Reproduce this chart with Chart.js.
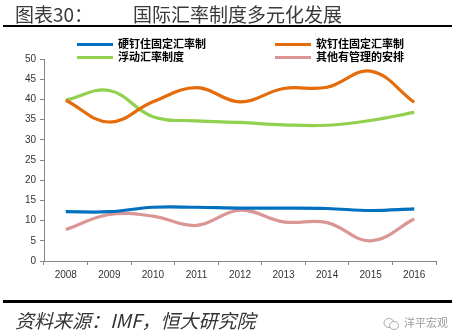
<!DOCTYPE html>
<html>
<head>
<meta charset="utf-8">
<script src="https://cdn.jsdelivr.net/npm/chart.js@4"></script>
<style>
  html, body { margin: 0; padding: 0; background: #fff; }
  #wrap { position: relative; width: 455px; height: 335px; overflow: hidden; font-family: "Noto Sans CJK SC", sans-serif; }
  #chart { position: absolute; left: 0; top: 0; }
  .title { position: absolute; top: 2px; font-size: 19px; color: #3a3a3a; line-height: 24px; white-space: nowrap; }
  .rule { position: absolute; left: 3px; width: 449px; background: #000; }
  .legend { position: absolute; font-size: 11px; font-weight: bold; color: #000; line-height: 13px; white-space: nowrap; }
  .legend i { display: inline-block; width: 36px; height: 3px; vertical-align: middle; margin-right: 5px; position: relative; top: -1px; }
  .source { position: absolute; left: 15px; top: 306px; font-size: 19px; font-style: italic; color: #333; white-space: nowrap; }
  .mark { position: absolute; left: 383px; top: 314px; font-size: 11px; color: #9a9a9a; white-space: nowrap; }
  .mark svg { vertical-align: middle; margin-right: 4px; }
</style>
</head>
<body>
<div id="wrap">
  <canvas id="chart" width="455" height="335"></canvas>
  <div class="title" style="left:15px">图表30：</div>
  <div class="title" style="left:133px">国际汇率制度多元化发展</div>
  <div class="rule" style="top:25px;height:2px"></div>
  <div id="legend"></div>
  <div class="rule" style="top:300px;height:3px"></div>
  <div class="source">资料来源：IMF，恒大研究院</div>
  <div class="mark"><svg width="17" height="14" viewBox="0 0 17 14"><ellipse cx="6" cy="6" rx="5" ry="4.5" fill="none" stroke="#aaa" stroke-width="1"/><ellipse cx="11" cy="8.5" rx="4.5" ry="4" fill="#fff" stroke="#aaa" stroke-width="1"/></svg>洋平宏观</div>
</div>
<script>
// years on the x axis
const years = ['2008', '2009', '2010', '2011', '2012', '2013', '2014', '2015', '2016'];

// share of countries under each regime (%)
const hardPeg  = [12.2, 12.2, 13.3, 13.3, 13.1, 13.1, 13.0, 12.5, 12.9];
const softPeg  = [39.8, 34.4, 39.4, 42.9, 39.4, 42.7, 43.0, 47.0, 39.3];
const floating = [39.8, 42.2, 35.7, 34.7, 34.3, 33.7, 33.6, 34.8, 36.8];
const otherMgd = [7.8, 11.5, 11.1, 8.8, 12.6, 9.7, 9.5, 5.0, 10.4];

const seriesNames = ['硬钉住固定汇率制', '软钉住固定汇率制', '浮动汇率制度', '其他有管理的安排'];
const seriesColors = ['#0070c0', '#e46c0a', '#92d050', '#d99694'];
const yTicks = [0, 5, 10, 15, 20, 25, 30, 35, 40, 45, 50];

const seriesData = [hardPeg, softPeg, floating, otherMgd];

// legend in two columns above the plot
const legendPos = [[77, 37], [275, 37], [77, 50], [275, 50]];
const legendEl = document.getElementById('legend');
seriesNames.forEach((name, i) => {
  const d = document.createElement('div');
  d.className = 'legend';
  d.style.left = legendPos[i][0] + 'px';
  d.style.top = legendPos[i][1] + 'px';
  d.innerHTML = '<i style="background:' + seriesColors[i] + '"></i>' + name;
  legendEl.appendChild(d);
});

const axisColor = '#868686';
const tickFont = { family: 'Liberation Sans', size: 10 };

new Chart(document.getElementById('chart'), {
  type: 'line',
  data: {
    labels: years,
    datasets: seriesNames.map((name, i) => ({
      label: name,
      data: seriesData[i],
      borderColor: seriesColors[i],
      backgroundColor: seriesColors[i],
      borderWidth: 3.2,
      pointRadius: 0,
      tension: 0.4,
      fill: false
    }))
  },
  options: {
    responsive: false,
    animation: false,
    layout: { padding: { top: 59, right: 19, bottom: 50, left: 0 } },
    plugins: {
      legend: { display: false },
      tooltip: { enabled: false }
    },
    scales: {
      x: {
        offset: true,
        grid: { display: true, drawOnChartArea: false, offset: true, tickLength: 4, color: axisColor },
        border: { color: axisColor, width: 1 },
        ticks: { color: '#333', font: tickFont, padding: 4, maxRotation: 0 },
        afterFit: (s) => { s.height = 24; }
      },
      y: {
        min: 0,
        max: 50,
        afterBuildTicks: (s) => { s.ticks = yTicks.map(v => ({ value: v })); },
        grid: { display: true, drawOnChartArea: false, tickLength: 4, color: axisColor },
        border: { color: axisColor, width: 1 },
        ticks: { color: '#333', font: tickFont, padding: 4 },
        afterFit: (s) => { s.width = 44; }
      }
    }
  }
});
</script>
</body>
</html>
